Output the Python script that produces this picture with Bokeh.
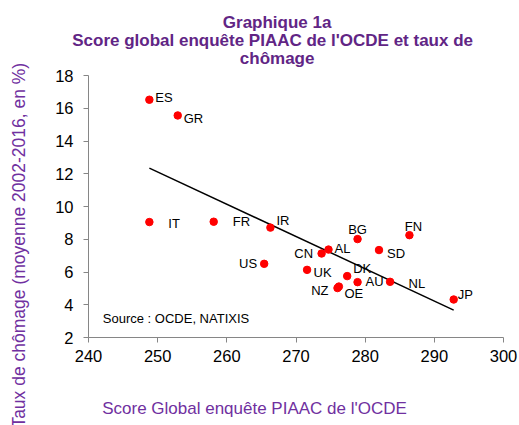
import numpy as np
from bokeh.plotting import figure
from bokeh.models import ColumnDataSource, Range1d, FixedTicker, Label, Title, LinearAxis
from bokeh.core.properties import value, field
from bokeh.embed import file_html
from bokeh.resources import INLINE

# ---- data ----
countries = ["ES", "GR", "IT", "FR", "IR", "BG", "FN", "SD", "AL", "CN",
             "US", "UK", "DK", "AU", "NL", "NZ", "OE", "JP"]
piaac_score = [248.8, 252.9, 248.8, 258.1, 266.3, 278.9, 286.4, 282.0, 274.7, 273.7,
               265.4, 271.6, 277.4, 278.9, 283.6, 276.0, 276.2, 292.8]
unemployment = [16.52, 15.56, 9.05, 9.07, 8.71, 8.01, 8.25, 7.34, 7.37, 7.13,
                6.50, 6.13, 5.75, 5.38, 5.40, 5.02, 5.11, 4.32]
x_ticks = [240, 250, 260, 270, 280, 290, 300]
y_ticks = [2, 4, 6, 8, 10, 12, 14, 16, 18]

# label placement (style, not data)
label_align = ["left", "left", "left", "left", "left", "center", "center", "left", "left", "right",
               "right", "left", "left", "left", "left", "right", "left", "left"]
label_dx = [6, 6, 19, 19, 6, 0, 4, 8, 6, -8.5, -7, 6.5, 6, 8, 18.5, -9, 5.5, 4]
label_dy = [-2, 3, 1, 0, -7.5, -10, -8.5, 3, -1.5, 0.5, 0, 3, -8, -0.5, 1.5, 2.5, 6.5, -5]

FONT = "Liberation Sans"
PURPLE = "#7030A0"
TITLE_PURPLE = "#612585"
AXIS_GREY = "#868686"

p = figure(width=519, height=425, output_backend="svg", toolbar_location=None,
           x_range=Range1d(240, 300), y_range=Range1d(2, 18),
           min_border_left=88, min_border_right=16, min_border_top=75, min_border_bottom=88)
p.outline_line_color = None
p.xgrid.visible = False
p.ygrid.visible = False
p.background_fill_color = "white"
p.border_fill_color = "white"

for ax in (p.xaxis[0], p.yaxis[0]):
    ax.axis_line_color = AXIS_GREY
    ax.major_tick_line_color = AXIS_GREY
    ax.minor_tick_line_color = None
    ax.major_tick_out = 5
    ax.major_tick_in = 0
    ax.major_label_text_font = FONT
    ax.major_label_text_font_size = "16.5px"
    ax.major_label_text_color = "black"
p.xaxis.ticker = FixedTicker(ticks=x_ticks)
p.yaxis.ticker = FixedTicker(ticks=y_ticks)
p.xaxis.major_label_standoff = 7
p.yaxis.major_label_standoff = 10


def spacer(size, tick):
    # invisible axis used only to reserve room in a side panel
    return LinearAxis(ticker=FixedTicker(ticks=[tick]), major_tick_out=size, major_tick_in=0,
                      minor_tick_out=0, axis_line_color=None, major_tick_line_color="white",
                      minor_tick_line_color=None, major_label_text_font_size="0px",
                      major_label_text_color=None, major_label_standoff=0)


# trend line (OLS fit over data range)
coef = np.polyfit(piaac_score, unemployment, 1)
tx = [min(piaac_score), max(piaac_score)]
ty = [coef[0] * v + coef[1] for v in tx]
p.line(tx, ty, line_color="black", line_width=1.5)

src = ColumnDataSource(dict(x=piaac_score, y=unemployment, name=countries,
                            align=label_align, dx=label_dx, dy=label_dy))
p.scatter("x", "y", source=src, size=7.5, fill_color="#FF0000", line_color="#FF0000")
p.text("x", "y", text="name", source=src, x_offset="dx", y_offset="dy",
       text_align=field("align"), text_baseline="middle",
       text_font=value(FONT), text_font_size="13px", text_color="black")

# title lines (first added = closest to the frame)
p.add_layout(spacer(9, 240), "above")
for txt, off in [("chômage", 151.3),
                 ("Score global enquête PIAAC de l'OCDE et taux de", -16.3),
                 ("Graphique 1a", 134.3)]:
    p.add_layout(Title(text=txt, align="left", offset=off, standoff=-3, vertical_align="bottom",
                       text_font=FONT, text_font_size="17px", text_font_style="bold",
                       text_color=TITLE_PURPLE), "above")

# x axis title
p.add_layout(spacer(34, 240), "below")
p.add_layout(Title(text="Score Global enquête PIAAC de l'OCDE", align="left", offset=13.7,
                   standoff=0, vertical_align="top", text_font=FONT, text_font_size="17px",
                   text_font_style="normal", text_color=PURPLE), "below")

# y axis title
p.add_layout(spacer(23, 2), "left")
p.add_layout(Title(text="Taux de chômage (moyenne 2002-2016, en %)", align="right", offset=-12.7,
                   standoff=0, vertical_align="middle", text_font=FONT, text_font_size="17.5px",
                   text_font_style="normal", text_color=PURPLE), "left")

p.add_layout(Label(x=14.3, y=18.7, x_units="screen", y_units="screen",
                   text="Source : OCDE, NATIXIS", text_font=FONT, text_font_size="13px",
                   text_align="left", text_baseline="middle", text_color="black"))

open("out.html", "w").write(file_html(p, INLINE))
